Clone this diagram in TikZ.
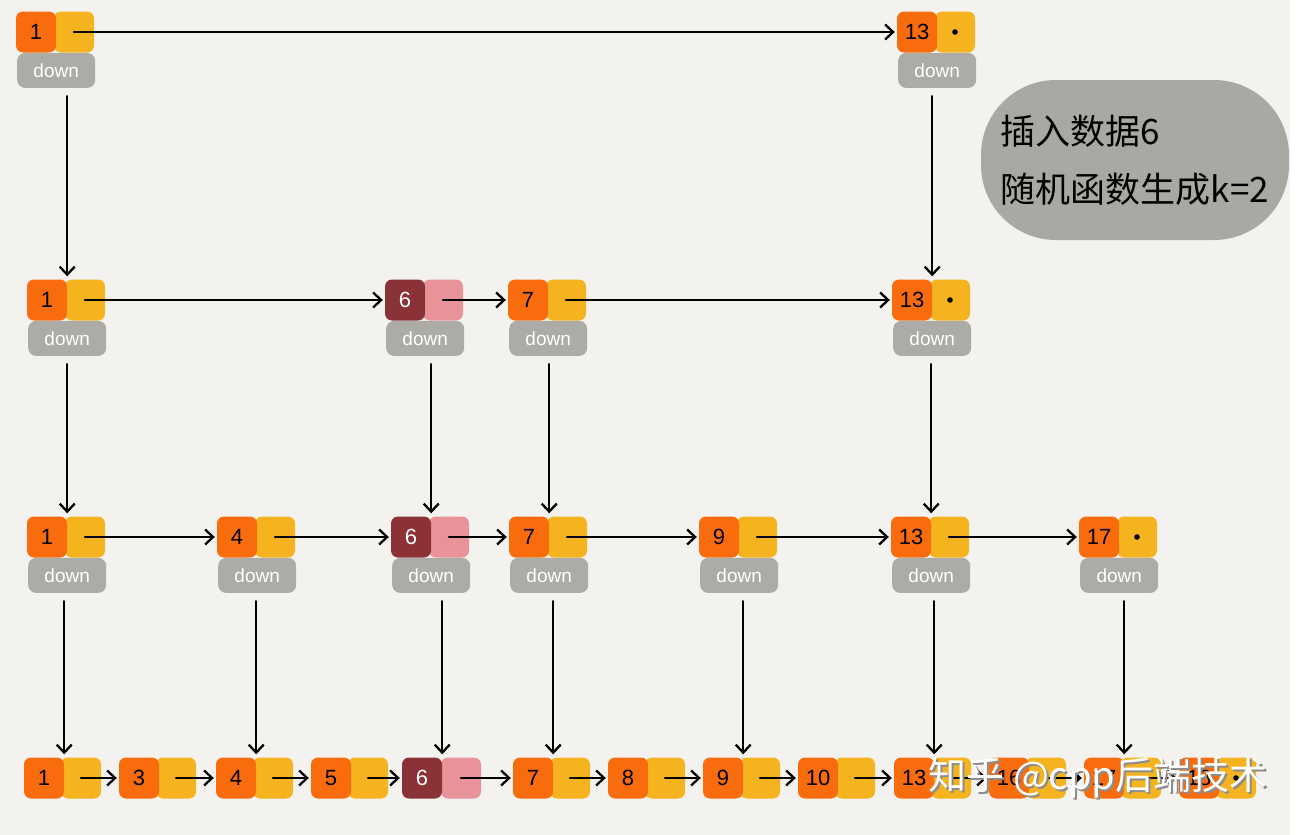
\documentclass[tikz,border=0pt]{standalone}
\usepackage{fontspec}
\setmainfont{Liberation Sans}
\newfontfamily\cjkfont{Noto Sans CJK SC}
\usetikzlibrary{positioning,arrows.meta,calc}
\definecolor{cKey}{HTML}{F86C0E}
\definecolor{cPtr}{HTML}{F5B320}
\definecolor{cDown}{HTML}{ADABA6}
\definecolor{cNewKey}{HTML}{8A3236}
\definecolor{cNewPtr}{HTML}{E8939A}
\definecolor{cBubble}{HTML}{A9A8A2}
\definecolor{cPaper}{HTML}{F3F2EE}
\tikzset{
  cell/.style={rounded corners=7pt,minimum width=40pt,minimum height=41pt,inner sep=0pt,font=\fontsize{22}{24}\selectfont},
  keybox/.style={cell,fill=cKey}, ptrbox/.style={cell,fill=cPtr},
  newkey/.style={cell,fill=cNewKey,text=white}, newptr/.style={cell,fill=cNewPtr},
  downbox/.style={rounded corners=8pt,fill=cDown,text=white,minimum width=78pt,minimum height=35pt,inner sep=0pt,anchor=north,font=\fontsize{19}{20}\selectfont},
  arr/.style={-{Straight Barb[length=8pt,width=15pt]},line width=2.3pt,line cap=round},
  varr/.style={arr,shorten <=8pt,shorten >=3pt},
  harr/.style={arr,shorten >=2pt},
  bubble/.style={rounded corners=75pt,fill=cBubble,minimum width=308pt,minimum height=160pt,align=left,font=\cjkfont\fontsize{35}{58}\selectfont},
  wmark/.style={font=\cjkfont\fontsize{38}{40}\selectfont,inner sep=0pt}}

\begin{document}
\begin{tikzpicture}[x=1pt,y=-1pt]
\useasboundingbox (0,0) rectangle (1310,835);
\fill[white] (0,0) rectangle (1310,835);
\fill[cPaper] (0,0) rectangle (1290,835);
% level 0
\foreach \x/\v in {36/1,917/13}{
  \node[ptrbox] (p0-\v) at (\x+38,32) {};
  \node[keybox] (k0-\v) at (\x,32) {\v};
  \node[downbox] (d0-\v) at (k0-\v.south east) {down};
}
% level 1
\foreach \x/\v in {47/1,528/7,912/13}{
  \node[ptrbox] (p1-\v) at (\x+38,300) {};
  \node[keybox] (k1-\v) at (\x,300) {\v};
  \node[downbox] (d1-\v) at (k1-\v.south east) {down};
}
\node[newptr] (p1-6) at (443,300) {};
\node[newkey] (k1-6) at (405,300) {6};
\node[downbox] (d1-6) at (k1-6.south east) {down};
% level 2
\foreach \x/\v in {47/1,237/4,529/7,719/9,911/13,1099/17}{
  \node[ptrbox] (p2-\v) at (\x+38,537) {};
  \node[keybox] (k2-\v) at (\x,537) {\v};
  \node[downbox] (d2-\v) at (k2-\v.south east) {down};
}
\node[newptr] (p2-6) at (449,537) {};
\node[newkey] (k2-6) at (411,537) {6};
\node[downbox] (d2-6) at (k2-6.south east) {down};
% original list
\foreach \x/\v in {44/1,139/3,236/4,331/5,533/7,628/8,723/9,818/10,914/13,1009/16,1104/17,1199/18}{
  \node[ptrbox] (p3-\v) at (\x+37,778) {};
  \node[keybox] (k3-\v) at (\x,778) {\v};
}
\node[newptr] (p3-6) at (461,778) {};
\node[newkey] (k3-6) at (422,778) {6};
\foreach \n in {p0-13,p1-13,p2-17,p3-18} \fill (\n) circle (2.8pt);
% links
\draw[harr] (p0-1.center) -- (k0-13.west);
\foreach \a/\b in {1/6,6/7,7/13} \draw[harr] (p1-\a.center) -- (k1-\b.west);
\foreach \a/\b in {1/4,4/6,6/7,7/9,9/13,13/17} \draw[harr] (p2-\a.center) -- (k2-\b.west);
\foreach \a/\b in {1/3,3/4,4/5,5/6,6/7,7/8,8/9,9/10,10/13,13/16,16/17,17/18} \draw[harr] (p3-\a.center) -- (k3-\b.west);
\foreach \r/\s/\v in {0/1/1,0/1/13,1/2/1,1/2/6,1/2/7,1/2/13,2/3/1,2/3/4,2/3/6,2/3/7,2/3/9,2/3/13,2/3/17}
  \draw[varr] (d\r-\v.south -| k\s-\v.east) -- (k\s-\v.north east);
\node[bubble] (note) at (1135,160) {插入数据6\\随机函数生成k=2};
\node[wmark,text=black!45] (wshadow) at (1100,780) {知乎 @cpp后端技术};
\node[wmark,text=white] (wtext) at (1098,778) {知乎 @cpp后端技术};
\end{tikzpicture}
\end{document}
